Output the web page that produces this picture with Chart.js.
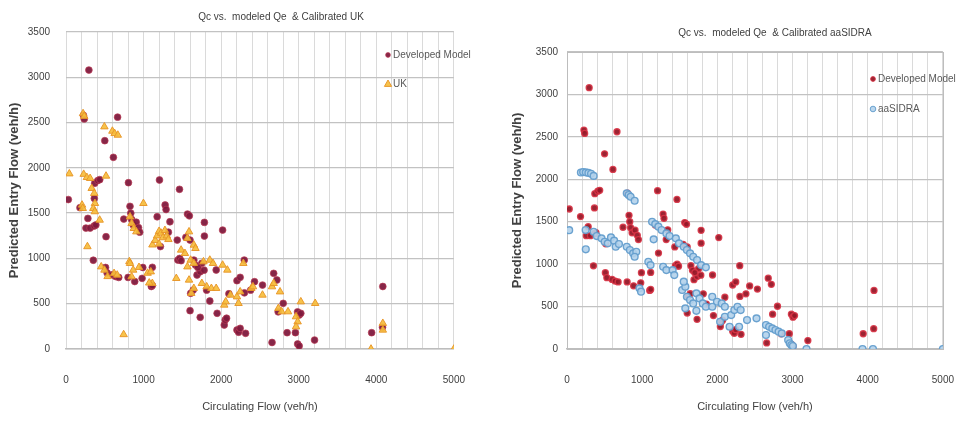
<!DOCTYPE html>
<html>
<head>
<meta charset="utf-8">
<script src="https://cdn.jsdelivr.net/npm/chart.js@4.4.1/dist/chart.umd.min.js"></script>
<style>
  html, body { margin: 0; padding: 0; background: #ffffff; }
  #wrap { position: relative; width: 979px; height: 423px; overflow: hidden; background: #ffffff; }
  canvas { position: absolute; top: 0; }
  #chartUK { left: 0; }
  #chartSIDRA { left: 490px; }
</style>
</head>
<body>
<div id="wrap">
  <canvas id="chartUK" width="490" height="423"></canvas>
  <canvas id="chartSIDRA" width="489" height="423"></canvas>
</div>
<script>
// Axis tick labels
const X_TICK_LABELS = [0, 1000, 2000, 3000, 4000, 5000];
const Y_TICK_LABELS = [0, 500, 1000, 1500, 2000, 2500, 3000, 3500];

// Series labels
const SERIES_DEV = 'Developed Model';
const SERIES_UK = 'UK';
const SERIES_SIDRA = 'aaSIDRA';

// Developed model: [circulating flow, predicted entry flow] (veh/h)
const developedModel = [
  [30,1650],[180,1560],[225,2580],[235,2540],[295,3080],[282,1442],
  [257,1335],[311,1335],[364,1358],[385,1370],[352,980],
  [365,1663],[370,1830],[410,1860],[435,1870],[500,2300],[516,1240],
  [510,900],[530,840],[600,820],[640,800],[680,790],[611,2116],[665,2560],
  [745,1435],[805,1836],[825,1575],[835,1500],[846,1430],[866,1370],
  [800,790],[886,745],[905,1400],[935,1340],[950,1290],[981,780],[990,900],
  [1100,690],[1113,702],[1113,902],[1175,1460],[1205,1866],[1217,1131],
  [1278,1590],[1290,1540],[1320,1290],[1340,1405],[1434,1203],[1463,1763],
  [1442,982],[1465,1000],[1484,975],[1566,1490],[1590,1470],[1545,1233],[1599,1203],
  [1599,423],[1607,615],[1640,651],[1648,982],[1669,927],[1689,817],[1730,853],
  [1750,946],[1700,900],[1780,870],[1730,350],[1784,1398],[1784,1247],
  [1813,650],[1854,530],[1936,872],[1948,394],[2019,1313],[2040,265],[2052,320],
  [2070,340],[2100,610],[2204,754],[2245,791],[2204,210],[2225,185],[2245,228],
  [2298,982],[2300,620],[2315,173],[2380,650],[2430,743],[2533,706],[2656,72],
  [2677,835],[2718,762],[2735,410],[2800,504],[2850,180],[2957,180],[2986,55],
  [3006,33],[2985,410],[3006,375],[3027,394],[3204,99],[3940,180],[4080,240],[4084,690]
];

// Calibrated UK model
const ukModel = [
  [43,1935],[220,2600],[235,2570],[207,1590],[216,1553],[228,1930],[269,1895],[311,1884],
  [276,1131],[331,1774],[364,1719],[373,1608],[352,1553],[371,1517],[434,1424],
  [454,908],[496,872],[536,801],[620,835],[660,817],[495,2454],[516,1910],
  [598,2406],[627,2380],[668,2362],[743,160],[825,1460],[846,1387],[874,1332],[907,1295],
  [817,966],[825,946],[866,872],[941,902],[846,798],[998,1608],[1052,838],[1093,853],
  [1113,725],[1073,730],[1114,1150],[1150,1200],[1175,1250],[1200,1300],[1225,1280],
  [1250,1230],[1275,1310],[1300,1250],[1320,1210],[1200,1160],[1422,780],[1484,1093],
  [1533,1056],[1586,1295],[1607,982],[1565,1222],[1586,762],[1648,1148],[1669,1111],
  [1565,908],[1648,946],[1772,964],[1854,982],[1895,946],[1615,615],[1648,670],
  [1751,725],[1813,688],[1874,670],[1936,670],[2019,927],[2080,872],[2040,486],[2059,522],
  [2121,596],[2204,577],[2224,504],[2245,632],[2286,946],[2389,670],[2410,688],[2533,596],
  [2656,688],[2677,725],[2759,632],[2738,449],[2780,412],[2862,412],[2965,357],[2986,301],
  [2965,246],[3027,522],[3212,504],[3932,0],[4084,210],[4084,284],[5000,0]
];

// Calibrated aaSIDRA model
const aasidraModel = [
  [29,1400],[185,2080],[215,2085],[250,2082],[285,2075],[320,2065],[354,2040],
  [250,1175],[248,1402],[354,1382],[396,1331],[459,1304],[501,1264],[543,1245],
  [585,1315],[627,1276],[648,1205],[691,1237],[795,1834],[820,1815],[846,1794],[900,1747],
  [795,1205],[837,1166],[880,1127],[922,1146],[900,1087],[964,715],[985,675],
  [1082,1028],[1111,989],[1132,1499],[1174,1472],[1216,1441],[1258,1402],[1322,1362],
  [1364,1331],[1153,1292],[1279,969],[1322,930],[1405,930],[1427,871],
  [1448,1304],[1490,1245],[1553,1205],[1595,1166],[1637,1127],[1679,1087],[1730,1048],
  [1784,989],[1847,962],[1532,695],[1574,734],[1595,616],[1637,577],[1679,537],
  [1721,656],[1763,596],[1806,537],[1847,498],[1553,793],[1574,479],[1721,450],
  [1932,616],[1995,557],[2058,537],[2100,498],[1932,498],[2037,321],[2100,380],
  [2184,400],[2226,459],[2268,498],[2310,459],[2163,262],[2289,262],[2395,341],[2521,361],
  [2647,283],[2689,262],[2731,243],[2773,224],[2815,204],[2857,184],[2647,165],
  [2942,106],[2963,67],[2984,47],[3005,35],[3186,0],[3931,0],[4070,0],[5000,0]
];

const toPoints = arr => arr.map(([x, y]) => ({ x, y }));

const FONT = '"Liberation Sans", Arial, sans-serif';
const TEXT = '#404040';

function drawMarker(ctx, style, x, y, r, fill, stroke) {
  ctx.beginPath();
  if (style === 'triangle') {
    ctx.moveTo(x, y - r);
    ctx.lineTo(x + r * 0.9, y + r * 0.6);
    ctx.lineTo(x - r * 0.9, y + r * 0.6);
    ctx.closePath();
  } else {
    ctx.arc(x, y, r, 0, Math.PI * 2);
  }
  ctx.fillStyle = fill;
  ctx.fill();
  ctx.lineWidth = 1;
  ctx.strokeStyle = stroke;
  ctx.stroke();
}

// Heading, in-plot legend and optional frame around the plot area
const chartDecor = {
  id: 'chartDecor',
  beforeDatasetsDraw(chart, args, o) {
    if (!o.frame) return;
    const a = chart.chartArea;
    const ctx = chart.ctx;
    ctx.save();
    ctx.strokeStyle = o.frame;
    ctx.lineWidth = 1;
    ctx.strokeRect(Math.round(a.left) + 0.5, Math.round(a.top) + 0.5,
                   Math.round(a.right - a.left), Math.round(a.bottom - a.top));
    ctx.restore();
  },
  afterDraw(chart, args, o) {
    const ctx = chart.ctx;
    ctx.save();
    ctx.font = o.headingFont;
    ctx.fillStyle = TEXT;
    ctx.textAlign = 'center';
    ctx.textBaseline = 'middle';
    ctx.fillText(o.heading, o.headingX, o.headingY);
    chart.data.datasets.forEach((ds, i) => {
      const y = o.legendY + i * o.legendGap;
      const m = o.markers[i];
      drawMarker(ctx, ds.pointStyle, o.legendX, y, m, ds.backgroundColor, ds.borderColor);
      ctx.font = o.legendFont;
      ctx.fillStyle = '#595959';
      ctx.textAlign = 'left';
      ctx.fillText(ds.label, o.legendX + 5, y);
    });
    ctx.restore();
  }
};

function makeScales(yWidth, yTickPad, yTitlePad) {
  return {
    x: {
      type: 'linear', min: 0, max: 5000,
      afterFit: s => { s.height = 74; },
      ticks: {
        stepSize: 200, autoSkip: false, maxRotation: 0, padding: 25,
        color: TEXT, font: { family: FONT, size: 10 },
        callback: v => X_TICK_LABELS.includes(Math.round(v)) ? String(Math.round(v)) : ''
      },
      grid: { color: '#dadada', lineWidth: 1, drawTicks: false },
      border: { display: true, color: '#bdbdbd', width: 1.5 },
      title: {
        display: true, text: 'Circulating Flow (veh/h)', color: TEXT,
        font: { family: FONT, size: 11 }, padding: { top: 0, bottom: 9 }
      }
    },
    y: {
      type: 'linear', min: 0, max: 3500,
      afterFit: s => { s.width = yWidth; },
      ticks: {
        stepSize: 500, padding: yTickPad, color: TEXT,
        font: { family: FONT, size: 10 },
        callback: v => Y_TICK_LABELS.includes(Math.round(v)) ? String(Math.round(v)) : ''
      },
      grid: { color: '#c2c2c2', lineWidth: 1.3, drawTicks: false },
      border: { display: false },
      title: {
        display: true, text: 'Predicted Entry Flow (veh/h)', color: TEXT,
        font: { family: FONT, size: 13, weight: 'bold' }, padding: { top: yTitlePad, bottom: 0 }
      }
    }
  };
}

Chart.defaults.devicePixelRatio = 1;

new Chart(document.getElementById('chartUK'), {
  type: 'scatter',
  data: {
    datasets: [
      {
        label: SERIES_DEV, data: toPoints(developedModel), order: 1,
        pointStyle: 'circle', pointRadius: 3.4,
        backgroundColor: 'rgba(128,26,62,0.95)', borderColor: 'rgba(186,60,84,0.7)', borderWidth: 1
      },
      {
        label: SERIES_UK, data: toPoints(ukModel), order: 0,
        pointStyle: 'triangle', pointRadius: 4.3,
        backgroundColor: 'rgba(246,190,60,0.92)', borderColor: 'rgba(232,150,40,0.95)', borderWidth: 1
      }
    ]
  },
  options: {
    responsive: false, animation: false,
    layout: { padding: { top: 32, right: 19, left: 0, bottom: 0 } },
    scales: makeScales(66, 16, 7),
    plugins: {
      legend: { display: false }, title: { display: false }, tooltip: { enabled: false },
      chartDecor: {
        heading: 'Qc vs.  modeled Qe  & Calibrated UK', headingX: 281, headingY: 17,
        headingFont: '10px ' + FONT,
        legendX: 388, legendY: 55, legendGap: 29, markers: [2.4, 4],
        legendFont: '10px ' + FONT, frame: null
      }
    }
  },
  plugins: [chartDecor]
});

new Chart(document.getElementById('chartSIDRA'), {
  type: 'scatter',
  data: {
    datasets: [
      {
        label: SERIES_DEV, data: toPoints(developedModel), order: 1,
        pointStyle: 'circle', pointRadius: 3,
        backgroundColor: 'rgba(150,24,40,0.95)', borderColor: 'rgba(216,52,70,0.9)', borderWidth: 1.3
      },
      {
        label: SERIES_SIDRA, data: toPoints(aasidraModel), order: 0,
        pointStyle: 'circle', pointRadius: 3.4,
        backgroundColor: 'rgba(178,210,235,0.9)', borderColor: 'rgba(100,158,205,0.95)', borderWidth: 1.4
      }
    ]
  },
  options: {
    responsive: false, animation: false,
    layout: { padding: { top: 52, right: 16, left: 0, bottom: 0 } },
    scales: makeScales(77, 9, 20),
    plugins: {
      legend: { display: false }, title: { display: false }, tooltip: { enabled: false },
      chartDecor: {
        heading: 'Qc vs.  modeled Qe  & Calibrated aaSIDRA', headingX: 285, headingY: 33,
        headingFont: '10px ' + FONT,
        legendX: 383, legendY: 79, legendGap: 30, markers: [2.4, 2.8],
        legendFont: '10px ' + FONT, frame: '#bdbdbd'
      }
    }
  },
  plugins: [chartDecor]
});
</script>
</body>
</html>
